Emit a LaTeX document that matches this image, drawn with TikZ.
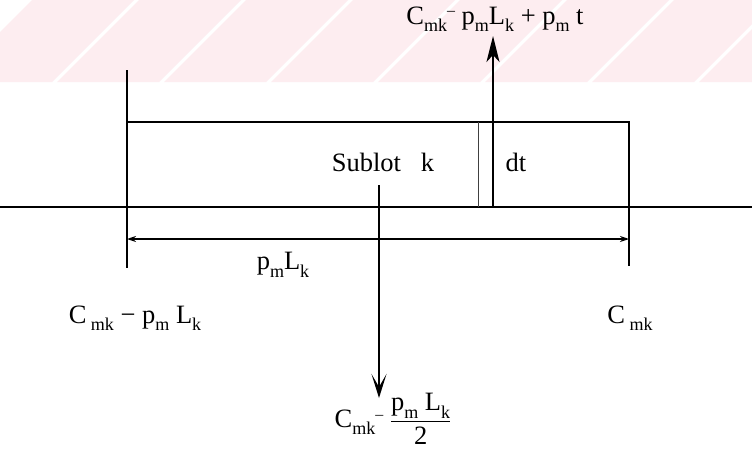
\documentclass[tikz,border=0pt]{standalone}
\usepackage{fontspec}
\setmainfont{Liberation Serif}
\usetikzlibrary{arrows.meta}
\newcommand{\lo}[1]{\raisebox{-0.28em}{\scalebox{0.68}{#1}}}
\newcommand{\dsh}{\raisebox{0.32em}{\scalebox{0.6}{–}}}
\definecolor{wmpink}{RGB}{253,237,240}
\begin{document}
\begin{tikzpicture}[x=1pt,y=-1pt,
  lbl/.style={font=\fontsize{26.5}{28}\selectfont, inner sep=0pt},
  boxline/.style={line width=2.8pt},
  thinline/.style={line width=1.6pt},
  bigup/.style={-{Stealth[length=26pt,width=13pt,inset=7pt]}, line width=1.8pt},
  bigdown/.style={-{Stealth[length=24pt,width=15pt,inset=13pt]}, line width=1.8pt},
  dimarrow/.style={{Stealth[length=9pt,width=6pt]}-{Stealth[length=9pt,width=6pt]}, line width=1.3pt}]
\useasboundingbox (0,0) rectangle (752,450);
\fill[white] (0,0) rectangle (752,450);
% watermark band
\begin{scope}
\clip (0,0) rectangle (752,82);
\foreach \s in {-60,47,154,261,368,475,582,689}{
  \fill[wmpink] (\s+10,82) -- (\s+112,82) -- (\s+194,0) -- (\s+92,0) -- cycle;
}
\end{scope}
% coordinates
\coordinate (axL) at (0,207);
\coordinate (axR) at (752,207);
\coordinate (vLt) at (127,70);
\coordinate (vLb) at (127,268);
\coordinate (vRt) at (629,122);
\coordinate (vRb) at (629,266);
\coordinate (dimL) at (127,239);
\coordinate (dimR) at (629,239);
\coordinate (upS) at (493,122);
\coordinate (upE) at (493,36);
\coordinate (dnS) at (379,185);
\coordinate (dnE) at (379,398);
% axis and verticals
\draw[thinline] (axL) -- (axR);
\draw[thinline] (vLt) -- (vLb);
\draw[thinline] (vRt) -- (vRb);
% sublot box
\draw[boxline] (127,122) rectangle (629,207);
% dt strip
\draw[line width=1pt, black!75] (478,122) -- (478,207);
\draw[line width=1.4pt] (493,122) -- (493,207);
% dimension
\draw[dimarrow] (dimL) -- (dimR);
% arrows
\draw[bigup] (upS) -- (upE);
\draw[bigdown] (dnS) -- (dnE);
% labels
\node[lbl] (top) at (495,19) {C\lo{mk}\dsh{} p\lo{m}L\lo{k} + p\lo{m} t};
\node[lbl] (sub) at (383,162) {Sublot\ \ \ k};
\node[lbl] (dt) at (516,162) {dt};
\node[lbl] (dim) at (283,265) {p\lo{m}L\lo{k}};
\node[lbl] (cl) at (135,318) {C\,\lo{mk} − p\lo{m} L\lo{k}};
\node[lbl] (cr) at (630,318) {C\,\lo{mk}};
\node[lbl] (bot) at (393,419) {C\lo{mk}\dsh{} $\displaystyle\frac{\hbox{p\lo{m} L\lo{k}}}{\hbox{2}}$};
\end{tikzpicture}
\end{document}
